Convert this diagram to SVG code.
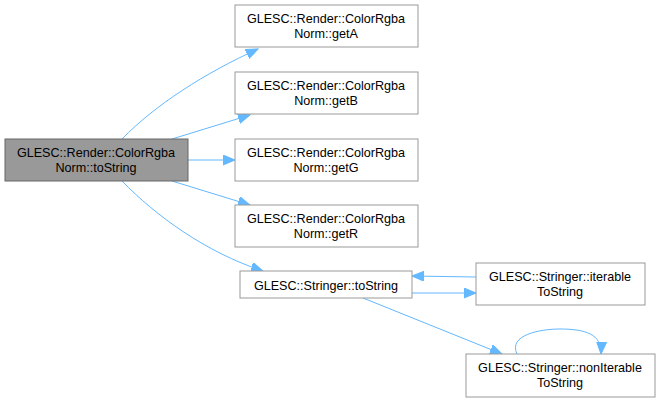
<svg xmlns="http://www.w3.org/2000/svg" width="661" height="403" viewBox="0 0 661 403">
<defs>
<style>
.node rect{fill:#ffffff;stroke:#999999;stroke-width:1}
#main rect{fill:#999999;stroke:#666666}
text{font-family:"Liberation Sans",Arial,sans-serif;font-size:12.6px;fill:#000;text-anchor:middle}
.edges path{fill:none;stroke:#63b8ff;stroke-width:1}
</style>
<marker id="arr" markerUnits="userSpaceOnUse" markerWidth="14" markerHeight="11" refX="12" refY="5" orient="auto">
<path d="M0,0 L12,5 L0,10 z" fill="#63b8ff" stroke="#63b8ff"/>
</marker>
</defs>
<rect width="661" height="403" fill="#ffffff"/>
<g class="edges">
<path d="M122,139 C155,105 205,73 258,49" marker-end="url(#arr)"/>
<path d="M172,139 L250,115" marker-end="url(#arr)"/>
<path d="M188,160 L235,160" marker-end="url(#arr)"/>
<path d="M172,181 L250,205" marker-end="url(#arr)"/>
<path d="M122,181 C155,215 205,252 263,271" marker-end="url(#arr)"/>
<path d="M476,277 L412,276" marker-end="url(#arr)"/>
<path d="M412,293 L476,293" marker-end="url(#arr)"/>
<path d="M363,298 L502,354" marker-end="url(#arr)"/>
<path d="M517,354 C508,335 540,329 560,329 C585,329 602,334 601,354" marker-end="url(#arr)"/>
</g>
<g id="main" class="node"><rect x="5" y="139" width="183" height="42"/><text x="96" y="157">GLESC::Render::ColorRgba</text><text x="96" y="172">Norm::toString</text></g>
<g id="getA" class="node"><rect x="235" y="5" width="183" height="42"/><text x="326" y="23">GLESC::Render::ColorRgba</text><text x="326" y="38">Norm::getA</text></g>
<g id="getB" class="node"><rect x="235" y="72" width="183" height="42"/><text x="326" y="90">GLESC::Render::ColorRgba</text><text x="326" y="105">Norm::getB</text></g>
<g id="getG" class="node"><rect x="235" y="139" width="183" height="42"/><text x="326" y="157">GLESC::Render::ColorRgba</text><text x="326" y="172">Norm::getG</text></g>
<g id="getR" class="node"><rect x="235" y="205" width="183" height="42"/><text x="326" y="223">GLESC::Render::ColorRgba</text><text x="326" y="238">Norm::getR</text></g>
<g id="stringerToString" class="node"><rect x="240" y="271" width="172" height="27"/><text x="326" y="290">GLESC::Stringer::toString</text></g>
<g id="iterableToString" class="node"><rect x="476" y="263" width="169" height="42"/><text x="560" y="281">GLESC::Stringer::iterable</text><text x="560" y="296">ToString</text></g>
<g id="nonIterableToString" class="node"><rect x="466" y="354" width="189" height="43"/><text x="560" y="372">GLESC::Stringer::nonIterable</text><text x="560" y="387">ToString</text></g>
</svg>
